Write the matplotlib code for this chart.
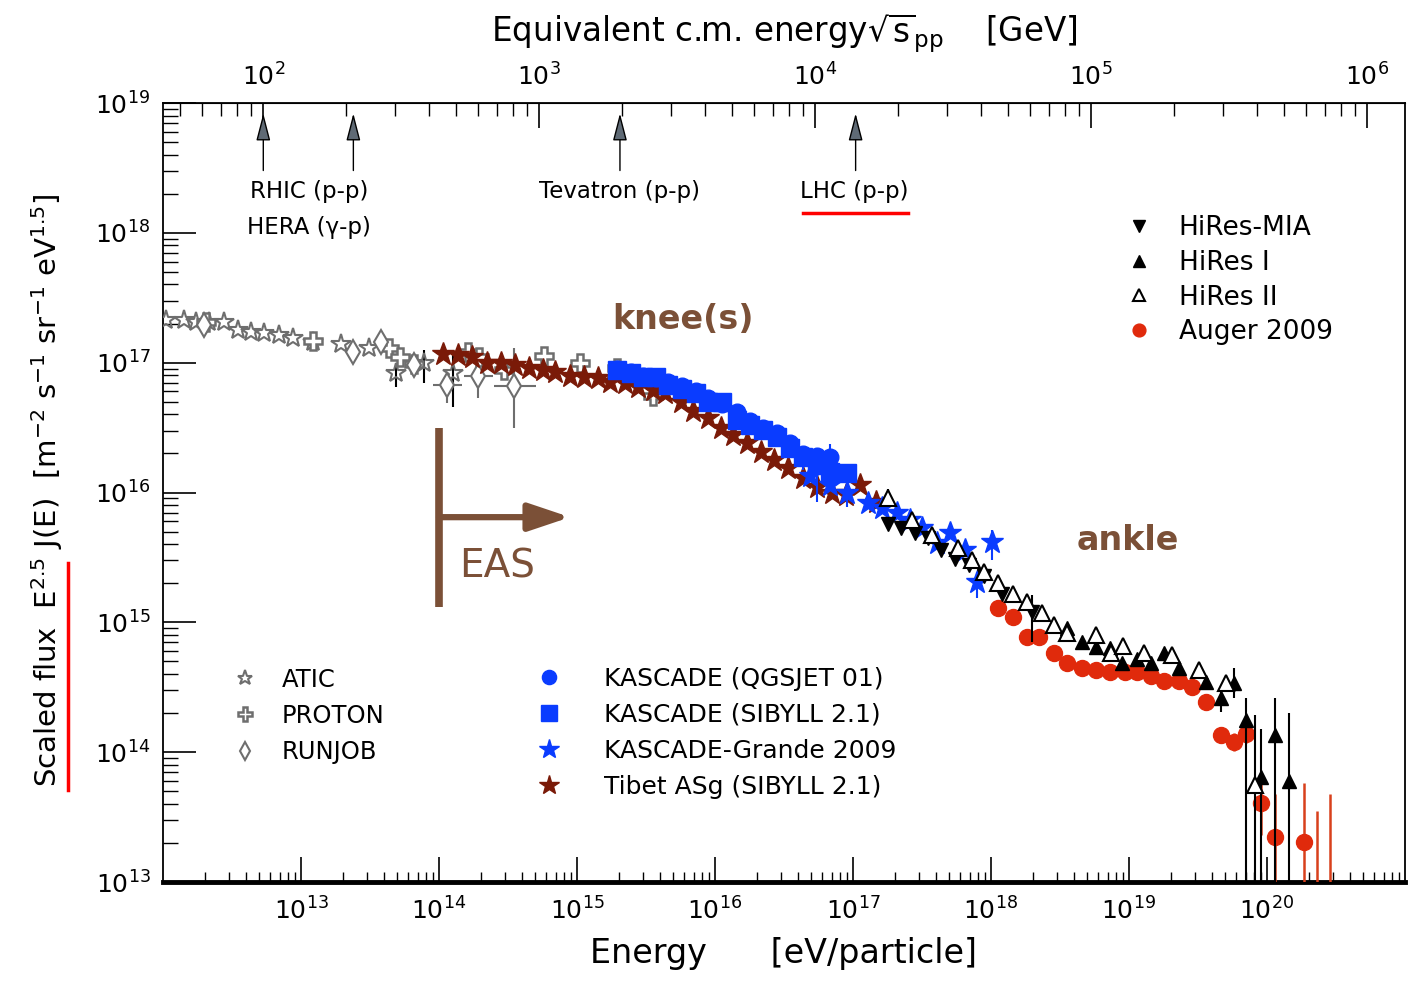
import numpy as np
import matplotlib
matplotlib.use("Agg")
import matplotlib.pyplot as plt
from matplotlib.ticker import LogLocator, NullFormatter
from matplotlib.lines import Line2D

# all values stored as log10: energy in eV, scaled flux E^2.5 J(E) in m^-2 s^-1 sr^-1 eV^1.5
atic_logE = [12.02, 12.15, 12.24, 12.33, 12.44, 12.54, 12.64, 12.73, 12.84, 12.94,
             13.09, 13.29, 13.49, 13.69, 13.89, 14.10]
atic_logF = [17.33, 17.33, 17.31, 17.31, 17.31, 17.25, 17.24, 17.23, 17.21, 17.19,
             17.16, 17.14, 17.11, 16.92, 17.00, 16.92]
atic_dn = [0] * 13 + [0.11, 0.16, 0.26]
atic_up = [0] * 13 + [0.08, 0.10, 0.14]

proton_logE = [12.31, 13.09, 13.64, 13.72, 13.82, 14.21, 14.29, 14.47, 14.76, 15.02, 15.29, 15.55]
proton_logF = [17.31, 17.17, 17.11, 17.04, 16.99, 17.08, 17.04, 16.94, 17.05, 17.00, 16.96, 16.74]

runjob_logE = [12.30, 13.38, 13.58, 13.82, 14.06, 14.28, 14.54]
runjob_logF = [17.29, 17.08, 17.16, 16.98, 16.83, 16.90, 16.82]
runjob_xdn = [0, 0, 0, 0, 0.10, 0.10, 0.14]
runjob_xup = [0, 0, 0, 0, 0.11, 0.11, 0.16]
runjob_dn = [0, 0, 0, 0, 0.14, 0.17, 0.32]
runjob_up = [0, 0, 0, 0, 0.10, 0.10, 0.29]

tibet_logE = [14.03, 14.14, 14.24, 14.35, 14.45, 14.55, 14.65, 14.75, 14.84, 14.95,
              15.05, 15.15, 15.24, 15.35, 15.44, 15.55, 15.64, 15.75, 15.84, 15.95,
              16.04, 16.13, 16.23, 16.33, 16.43, 16.53, 16.64, 16.74, 16.85, 16.95,
              17.05, 17.17]
tibet_logF = [17.07, 17.06, 17.04, 17.00, 17.00, 16.98, 16.96, 16.94, 16.93, 16.90,
              16.89, 16.88, 16.85, 16.84, 16.81, 16.79, 16.77, 16.70, 16.63, 16.57,
              16.50, 16.44, 16.38, 16.31, 16.25, 16.19, 16.11, 16.04, 16.00, 15.98,
              16.06, 15.93]

kas_sib_logE = [15.29, 15.39, 15.48, 15.57, 15.66, 15.76, 15.86, 15.95, 16.05, 16.16,
                16.25, 16.35, 16.45, 16.54, 16.64, 16.74, 16.83, 16.96]
kas_sib_logF = [16.94, 16.92, 16.89, 16.89, 16.83, 16.80, 16.77, 16.70, 16.70, 16.56,
                16.52, 16.48, 16.43, 16.34, 16.27, 16.21, 16.16, 16.15]
kas_sib_dn = [0] * 14 + [0.10, 0.28, 0.05, 0.26]
kas_sib_up = [0] * 14 + [0.06, 0.05, 0.04, 0.05]

kas_qgs_logE = [15.29, 15.39, 15.48, 15.57, 15.66, 15.76, 15.86, 15.95, 16.05, 16.16,
                16.25, 16.35, 16.45, 16.54, 16.64, 16.74, 16.83]
kas_qgs_logF = [16.95, 16.93, 16.90, 16.88, 16.85, 16.82, 16.78, 16.73, 16.68, 16.62,
                16.55, 16.50, 16.46, 16.38, 16.30, 16.28, 16.27]
kas_qgs_dn = [0] * 13 + [0.04, 0.05, 0.06, 0.17]
kas_qgs_up = [0] * 13 + [0.05, 0.05, 0.06, 0.10]

grande_logE = [16.69, 16.83, 16.96, 17.11, 17.21, 17.32, 17.41, 17.50, 17.61, 17.70,
               17.81, 17.90, 18.01]
grande_logF = [16.13, 16.06, 16.00, 15.92, 15.88, 15.84, 15.79, 15.73, 15.61, 15.69,
               15.56, 15.31, 15.62]
grande_dn = [0] * 11 + [0.12, 0.14]
grande_up = [0] * 11 + [0.08, 0.09]

mia_logE = [17.25, 17.35, 17.45, 17.54, 17.64, 17.74, 17.84, 17.95, 18.08, 18.30]
mia_logF = [15.76, 15.73, 15.69, 15.65, 15.56, 15.49, 15.44, 15.36, 15.22, 15.08]
mia_dn = [0] * 9 + [0.23]
mia_up = [0] * 9 + [0.13]

hires1_logE = [18.55, 18.66, 18.76, 18.86, 18.95, 19.06, 19.16, 19.25, 19.36, 19.56,
               19.67, 19.76, 19.85, 19.96, 20.06, 20.16]
hires1_logF = [14.96, 14.85, 14.81, 14.80, 14.69, 14.72, 14.69, 14.76, 14.65, 14.54,
               14.42, 14.53, 14.25, 13.81, 14.13, 13.78]
hires1_dn = [0] * 10 + [0.11, 0.11, 1.3, 1.0, 1.3, 1.0]
hires1_up = [0] * 10 + [0.06, 0.12, 0.17, 0.37, 0.29, 0.52]

hires2_logE = [17.25, 17.43, 17.57, 17.76, 17.86, 17.95, 18.05, 18.16, 18.26, 18.37,
               18.46, 18.55, 18.76, 18.87, 18.96, 19.11, 19.31, 19.51, 19.70, 19.91]
hires2_logF = [15.96, 15.79, 15.67, 15.57, 15.48, 15.39, 15.30, 15.22, 15.16, 15.07,
               14.98, 14.92, 14.90, 14.76, 14.82, 14.76, 14.75, 14.63, 14.53, 13.75]
hires2_dn = [0] * 19 + [1.0]
hires2_up = [0.07] + [0] * 18 + [0.54]

auger_logE = [18.05, 18.16, 18.26, 18.35, 18.46, 18.55, 18.66, 18.76, 18.86, 18.97,
              19.06, 19.16, 19.25, 19.36, 19.46, 19.56, 19.67, 19.76, 19.85, 19.96,
              20.06, 20.27, 20.36, 20.46]
auger_logF = [15.11, 15.04, 14.89, 14.89, 14.76, 14.69, 14.65, 14.63, 14.62, 14.62,
              14.62, 14.59, 14.55, 14.55, 14.50, 14.39, 14.13, 14.08, 14.14, 13.61,
              13.35, 13.31, 12.80, 12.80]
auger_dn = [0] * 16 + [0.06, 0.07, 0.07, 0.25, 0.6, 0.6, 0.3, 0.3]
auger_up = [0] * 16 + [0.06, 0.07, 0.07, 0.17, 0.33, 0.45, 0.75, 0.88]

# collider energies, sqrt(s) in GeV
colliders = ["RHIC (p-p)", "HERA (\u03b3-p)", "Tevatron (p-p)", "LHC (p-p)"]
collider_sqrts = [100, 212, 1960, 14000]

M_P = 0.938  # GeV

GRAY = "#6e6e6e"
TIBET = "#7a1a08"
BLUE = "#0a3cff"
RED = "#e02a0c"
BROWN = "#7b5037"


def to_sqrts(E):
    return np.sqrt(2 * M_P * np.maximum(E, 1e-30) / 1e9)


def to_E(s):
    return np.asarray(s) ** 2 * 1e9 / (2 * M_P)


def series(ax, logE, logF, dn=None, up=None, xdn=None, xup=None, ecolor=None, elw=1.5, **kw):
    logE = np.array(logE, dtype=float)
    logF = np.array(logF, dtype=float)
    E = 10 ** logE
    F = 10 ** logF
    yerr = xerr = None
    if dn is not None:
        yerr = [F - 10 ** (logF - np.array(dn)), 10 ** (logF + np.array(up)) - F]
    if xdn is not None:
        xerr = [E - 10 ** (logE - np.array(xdn)), 10 ** (logE + np.array(xup)) - E]
    c = ax.errorbar(E, F, yerr=yerr, xerr=xerr, ls="none", ecolor=ecolor,
                    elinewidth=elw, capsize=0, **kw)
    return c[0]


fig = plt.figure(figsize=(14.09, 9.85), dpi=100)
ax = fig.add_axes([163 / 1409, 1 - 882 / 985, 1242 / 1409, 779 / 985])
ax.set_xscale("log")
ax.set_yscale("log")
ax.set_xlim(1e12, 1e21)
ax.set_ylim(1e13, 1e19)

h_atic = series(ax, atic_logE, atic_logF, atic_dn, atic_up, ecolor="k", marker="*",
                ms=15, mfc="none", mec=GRAY, mew=1.5, zorder=3)
h_proton = series(ax, proton_logE, proton_logF, marker="P", ms=13, mfc="white",
                  mec=GRAY, mew=1.8, zorder=3)
h_runjob = series(ax, runjob_logE, runjob_logF, runjob_dn, runjob_up, runjob_xdn, runjob_xup,
                  ecolor=GRAY, marker="d", ms=12, mfc="white", mec=GRAY, mew=1.5, zorder=3)
h_tibet = series(ax, tibet_logE, tibet_logF, marker="*", ms=17, color=TIBET, mec=TIBET, zorder=4)
h_qgs = series(ax, kas_qgs_logE, kas_qgs_logF, kas_qgs_dn, kas_qgs_up, ecolor=BLUE,
               marker="o", ms=12, color=BLUE, zorder=5)
h_sib = series(ax, kas_sib_logE, kas_sib_logF, kas_sib_dn, kas_sib_up, ecolor=BLUE,
               marker="s", ms=13, color=BLUE, zorder=5)
h_grande = series(ax, grande_logE, grande_logF, grande_dn, grande_up, ecolor=BLUE,
                  marker="*", ms=17, color=BLUE, zorder=6)
h_auger = series(ax, auger_logE, auger_logF, auger_dn, auger_up, ecolor="#d8401c",
                 elw=1.8, marker="o", ms=11.5, color=RED, zorder=6)
h_mia = series(ax, mia_logE, mia_logF, mia_dn, mia_up, ecolor="k", marker="v", ms=10.5,
               color="k", zorder=7)
h_hires1 = series(ax, hires1_logE, hires1_logF, hires1_dn, hires1_up, ecolor="k",
                  marker="^", ms=10.5, color="k", zorder=7)
h_hires2 = series(ax, hires2_logE, hires2_logF, hires2_dn, hires2_up, ecolor="k",
                  marker="^", ms=11.5, mfc="white", mec="k", mew=1.5, zorder=7)

# axes styling
ax.set_xticks(10.0 ** np.arange(13, 21))
ax.xaxis.set_minor_locator(LogLocator(base=10, subs=np.arange(2, 10), numticks=100))
ax.xaxis.set_minor_formatter(NullFormatter())
ax.set_yticks(10.0 ** np.arange(13, 20))
ax.yaxis.set_minor_locator(LogLocator(base=10, subs=np.arange(2, 10), numticks=100))
ax.yaxis.set_minor_formatter(NullFormatter())
ax.tick_params(axis="x", which="both", direction="in", top=False, bottom=True)
ax.tick_params(axis="x", which="major", length=18, width=1.2, labelsize=18, pad=11)
ax.tick_params(axis="x", which="minor", length=7, width=1.0)
ax.tick_params(axis="y", which="both", direction="in", left=True, right=False)
ax.tick_params(axis="y", which="major", length=24, width=1.2, labelsize=18, pad=9)
ax.tick_params(axis="y", which="minor", length=11, width=1.0)
for s in ["top", "left", "right"]:
    ax.spines[s].set_linewidth(1.3)
ax.spines["bottom"].set_linewidth(3.5)
ax.set_xlabel("Energy      [eV/particle]", fontsize=24, labelpad=9)

secax = ax.secondary_xaxis("top", functions=(to_sqrts, to_E))
secax.set_xticks([1e2, 1e3, 1e4, 1e5, 1e6])
secax.xaxis.set_minor_locator(LogLocator(base=10, subs=np.arange(2, 10), numticks=100))
secax.xaxis.set_minor_formatter(NullFormatter())
secax.tick_params(which="both", direction="in")
secax.tick_params(which="major", length=18, width=1.2, labelsize=18, pad=9)
secax.tick_params(which="minor", length=9, width=1.0)
secax.set_xlabel(r"Equivalent c.m. energy$\sqrt{\mathrm{s}}_{\mathrm{pp}}$    [GeV]",
                 fontsize=23.5, labelpad=15)

fig.text(47 / 1409, 0.5025,
         r"Scaled flux  E$^{2.5}$ J(E)  [m$^{-2}$ s$^{-1}$ sr$^{-1}$ eV$^{1.5}$]",
         rotation=90, fontsize=21, ha="center", va="center")
fig.add_artist(Line2D([68 / 1409] * 2, [1 - 563 / 985, 1 - 790 / 985], color="red",
                      lw=2.5, transform=fig.transFigure))

# collider arrows along the top axis
for name, sq in zip(colliders, collider_sqrts):
    E = to_E(sq)
    ax.annotate("", xy=(E, 10 ** 18.92), xytext=(E, 10 ** 18.48),
                arrowprops=dict(arrowstyle="-|>,head_length=0.85,head_width=0.22",
                                mutation_scale=20, fc="#5f6a75", ec="k", lw=1.0,
                                shrinkA=0, shrinkB=0))
ax.text(10 ** 13.06, 10 ** 18.32, colliders[0], fontsize=16.5, ha="center", va="center")
ax.text(10 ** 13.06, 10 ** 18.04, colliders[1], fontsize=16.5, ha="center", va="center")
ax.text(10 ** 15.31, 10 ** 18.32, colliders[2], fontsize=16.5, ha="center", va="center")
ax.text(10 ** 17.01, 10 ** 18.32, colliders[3], fontsize=16.5, ha="center", va="center")
ax.plot([10 ** 16.637, 10 ** 17.396], [10 ** 18.153] * 2, color="red", lw=2.5)

# spectral features
ax.text(10 ** 15.77, 10 ** 17.33, "knee(s)", fontsize=24, fontweight="bold", color=BROWN,
        ha="center", va="center")
ax.text(10 ** 18.99, 10 ** 15.63, "ankle", fontsize=24, fontweight="bold", color=BROWN,
        ha="center", va="center")

# extensive air shower threshold
EAS_E = 1e14
ax.plot([EAS_E, EAS_E], [10 ** 15.12, 10 ** 16.50], color=BROWN, lw=5.5, solid_capstyle="butt")
ax.annotate("", xy=(10 ** 14.95, 10 ** 15.81), xytext=(EAS_E, 10 ** 15.81),
            arrowprops=dict(arrowstyle="-|>,head_length=1.25,head_width=0.42",
                            mutation_scale=20, color=BROWN, lw=4.5,
                            shrinkA=0, shrinkB=0))
ax.text(10 ** 14.42, 10 ** 15.43, "EAS", fontsize=28, color=BROWN, ha="center", va="center")

# legends
leg1 = ax.legend([h_atic, h_proton, h_runjob], ["ATIC", "PROTON", "RUNJOB"],
                 loc="upper left", bbox_to_anchor=(0.0564, 0.275), frameon=False,
                 fontsize=17.5, handlelength=1.0, handletextpad=1.0, labelspacing=0.5,
                 borderpad=0, borderaxespad=0, markerscale=0.75)
ax.add_artist(leg1)
leg2 = ax.legend([h_qgs, h_sib, h_grande, h_tibet],
                 ["KASCADE (QGSJET 01)", "KASCADE (SIBYLL 2.1)", "KASCADE-Grande 2009",
                  "Tibet ASg (SIBYLL 2.1)"],
                 loc="upper left", bbox_to_anchor=(0.301, 0.276), frameon=False,
                 fontsize=18, handlelength=1.0, handletextpad=1.68, labelspacing=0.48,
                 borderpad=0, borderaxespad=0, markerscale=0.85)
ax.add_artist(leg2)
ax.legend([h_mia, h_hires1, h_hires2, h_auger], ["HiRes-MIA", "HiRes I", "HiRes II", "Auger 2009"],
          loc="upper left", bbox_to_anchor=(0.7754, 0.856), frameon=False,
          fontsize=19, handlelength=1.0, handletextpad=1.0, labelspacing=0.33,
          borderpad=0, borderaxespad=0, markerscale=0.8)

fig.savefig("out.png", dpi=100)
